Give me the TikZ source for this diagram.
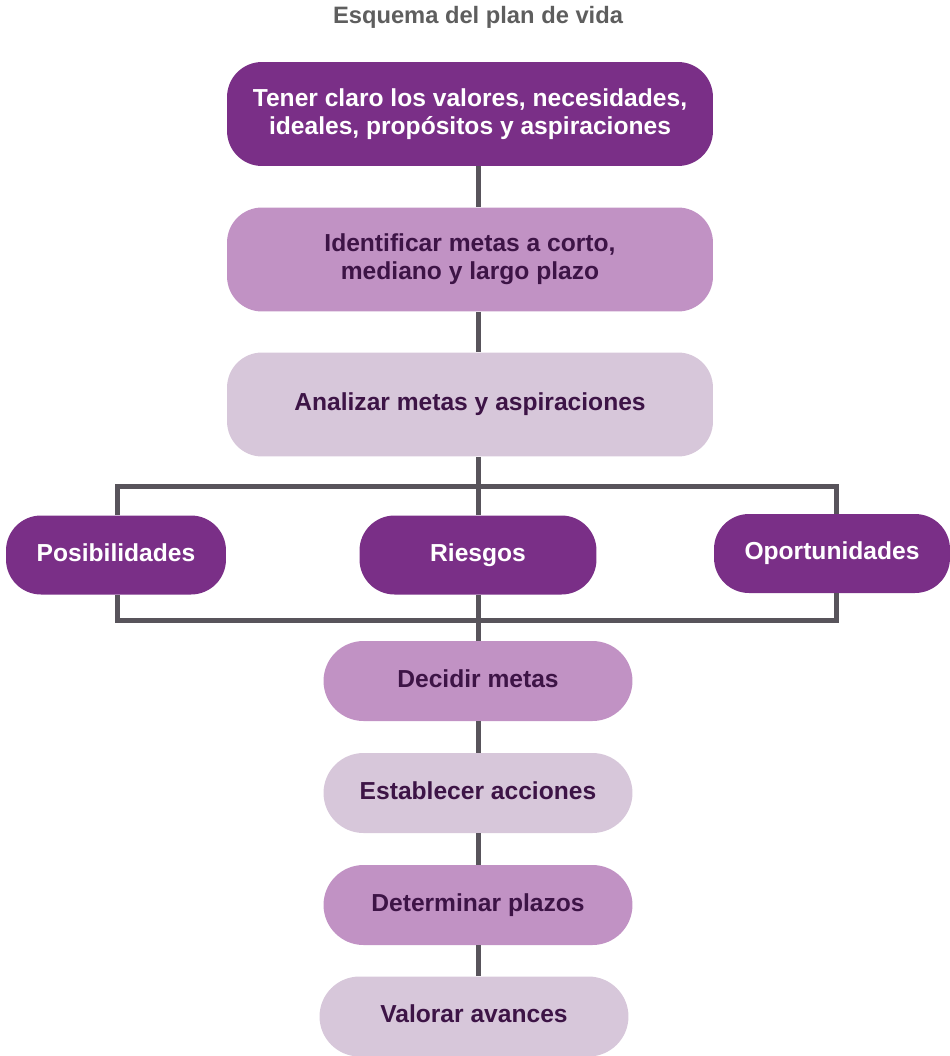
\documentclass[tikz,border=0pt]{standalone}
\usepackage{fontspec}
\setmainfont{Liberation Sans}
\usepackage{tikz}
\usetikzlibrary{positioning,calc}
\definecolor{pdark}{HTML}{7A2F87}
\definecolor{pmid}{HTML}{C192C4}
\definecolor{plight}{HTML}{D7C7DA}
\definecolor{ptext}{HTML}{3D1446}
\definecolor{plink}{HTML}{58545B}
\definecolor{ptitle}{HTML}{5E5E5E}

\begin{document}
\begin{tikzpicture}[x=0.02cm, y=-0.02cm,
    boxfont/.style={font=\bfseries\fontsize{14}{16}\selectfont},
    bigbox/.style={boxfont, rounded corners=0.7cm, minimum width=9.72cm, minimum height=2.08cm, align=center},
    rowbox/.style={boxfont, rounded corners=0.7cm, minimum height=1.58cm, fill=pdark, text=white, text height=0.72em, text depth=0pt},
    pillbox/.style={boxfont, rounded corners=0.8cm, minimum width=6.18cm, minimum height=1.6cm, text=ptext, text height=0.72em, text depth=0pt},
    link/.style={plink, line width=0.1cm}]
    \useasboundingbox (0,0) rectangle (950,1056);

    % Title
    \node[font=\bfseries\fontsize{13.5}{16}\selectfont, text=ptitle] (title) at (478,17) {Esquema del plan de vida};

    % Upper boxes
    \node[bigbox, fill=pdark, text=white] (tener) at (470,114) {Tener claro los valores, necesidades,\\ ideales, propósitos y aspiraciones};
    \node[bigbox, fill=pmid, text=ptext] (identificar) at (470,259.5) {Identificar metas a corto,\\ mediano y largo plazo};
    \node[bigbox, fill=plight, text=ptext] (analizar) at (470,404.5) {Analizar metas y aspiraciones};

    % Middle row
    \node[rowbox, minimum width=4.4cm] (posib) at (116,555) {Posibilidades};
    \node[rowbox, minimum width=4.74cm] (riesgos) at (478,555) {Riesgos};
    \node[rowbox, minimum width=4.72cm] (oport) at (832,553.5) {Oportunidades};

    % Lower steps
    \node[pillbox, fill=pmid] (decidir) at (478,681) {Decidir metas};
    \node[pillbox, fill=plight] (establecer) at (478,793) {Establecer acciones};
    \node[pillbox, fill=pmid] (determinar) at (478,905) {Determinar plazos};
    \node[pillbox, fill=plight] (valorar) at (474,1016.5) {Valorar avances};

    % Connecting lines
    \draw[link] (tener.south -| riesgos) -- (identificar.north -| riesgos);
    \draw[link] (identificar.south -| riesgos) -- (analizar.north -| riesgos);
    \draw[link] (analizar.south -| riesgos) -- (riesgos.north);
    \coordinate (split) at (478,486);
    \coordinate (join) at (478,620);
    \draw[link] ([xshift=0.02cm]posib.north) |- (split) -| ([xshift=0.08cm]oport.north);
    \draw[link] ([xshift=0.02cm]posib.south) |- (join) -| ([xshift=0.08cm]oport.south);
    \draw[link] (riesgos) -- (decidir);
    \draw[link] (decidir) -- (establecer);
    \draw[link] (establecer) -- (determinar);
    \draw[link] (determinar) -- (valorar.north -| determinar);
\end{tikzpicture}
\end{document}
